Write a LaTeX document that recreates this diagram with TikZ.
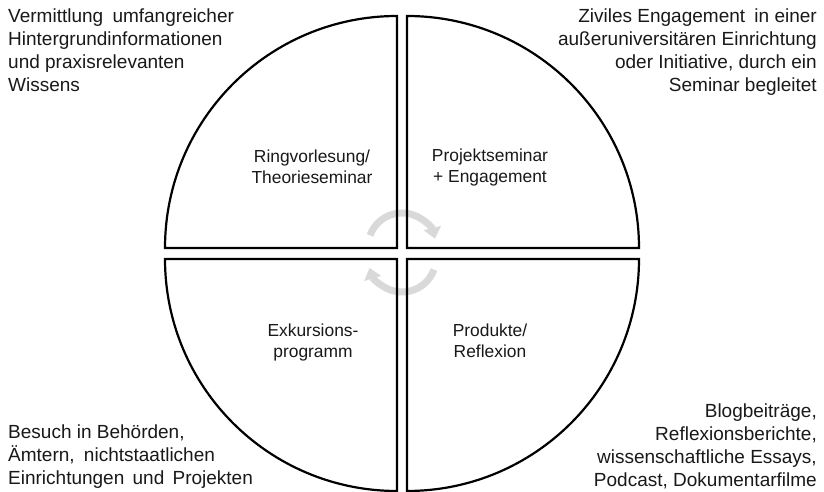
\documentclass[tikz,border=0pt]{standalone}
\usepackage{fontspec}
\setmainfont{Liberation Sans}
\usetikzlibrary{arrows.meta}
\definecolor{cyclegray}{RGB}{217,217,217}
\definecolor{txt}{RGB}{25,25,25}
\begin{document}
\begin{tikzpicture}[x=1pt,y=1pt,
  quad/.style={draw=black,line width=2.2pt,line join=miter},
  cyc/.style={draw=cyclegray,line width=7pt,-{Triangle[width=17pt,length=11pt]}},
  outer/.style={inner sep=0pt,text=txt,font=\fontsize{19}{23.3}\selectfont},
  inner/.style={inner sep=0pt,text=txt,align=center,font=\fontsize{17.4}{21}\selectfont}]
\useasboundingbox (0,0) rectangle (824,492);
\fill[white] (0,0) rectangle (824,492);
% cycle arrows
\coordinate (ctop) at (402,245);
\coordinate (cbot) at (402,234);
\draw[cyc] ([shift={(160:34)}]ctop) arc[start angle=160,end angle=14,radius=34];
\draw[cyc] ([shift={(-20:34)}]cbot) arc[start angle=-20,end angle=-163,radius=34];
% quadrants
\draw[quad] (397,244) -- (165,244) arc[start angle=180,end angle=90,radius=232] -- cycle;
\draw[quad] (407,244) -- (407,476) arc[start angle=90,end angle=0,radius=232] -- cycle;
\draw[quad] (407,233) -- (639,233) arc[start angle=0,end angle=-90,radius=232] -- cycle;
\draw[quad] (397,233) -- (397,1) arc[start angle=-90,end angle=-180,radius=232] -- cycle;
% inner labels (base anchor = last line)
\node[inner,anchor=base] (ring) at (312,308) {Ringvorlesung/\\Theorieseminar};
\node[inner,anchor=base] (proj) at (490,309) {Projektseminar\\+ Engagement};
\node[inner,anchor=base] (exk) at (313,134) {Exkursions-\\programm};
\node[inner,anchor=base] (prod) at (490,134) {Produkte/\\Reflexion};
% outer texts
\node[outer,align=left,anchor=base west] (tl) at (8,400) {Vermittlung\hspace{4pt} umfangreicher\\Hintergrundinformationen\\und praxisrelevanten\\Wissens};
\node[outer,align=right,anchor=base east] (tr) at (817,400) {Ziviles Engagement\hspace{4pt} in einer\\außeruniversitären Einrichtung\\oder Initiative, durch ein\\Seminar begleitet};
\node[outer,align=left,anchor=base west] (bl) at (8,7) {Besuch in Behörden,\\Ämtern,\hspace{4pt} nichtstaatlichen\\Einrichtungen\hspace{3pt} und\hspace{3pt} Projekten};
\node[outer,align=right,anchor=base east] (br) at (817,5) {Blogbeiträge,\\Reflexionsberichte,\\wissenschaftliche Essays,\\Podcast, Dokumentarfilme};
\end{tikzpicture}
\end{document}
